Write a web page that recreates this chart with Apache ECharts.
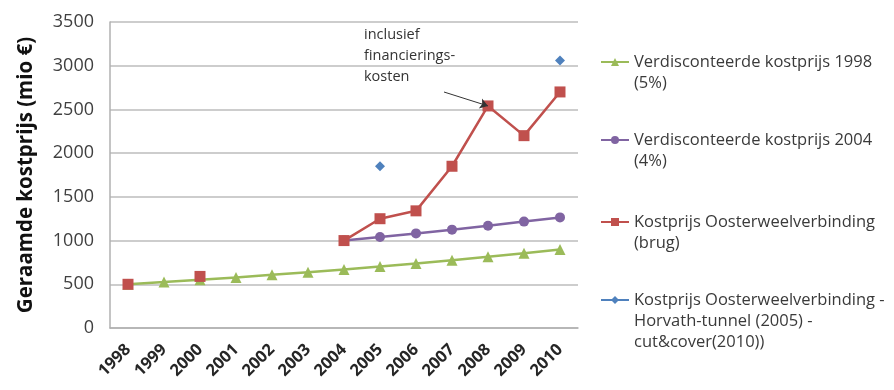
<!DOCTYPE html>
<html>
<head>
<meta charset="utf-8">
<script src="https://cdn.jsdelivr.net/npm/echarts@6/dist/echarts.min.js"></script>
<style>
  html, body { margin: 0; padding: 0; background: #fff; }
  #chart { width: 894px; height: 390px; }
</style>
</head>
<body>
<div id="chart"></div>
<script>
// categories and values
const years = ['1998', '1999', '2000', '2001', '2002', '2003', '2004', '2005', '2006', '2007', '2008', '2009', '2010'];
const kost1998 = [500, 525, 551, 579, 608, 638, 670, 704, 739, 776, 814, 855, 898];
const kost2004 = [null, null, null, null, null, null, 1000, 1040, 1082, 1125, 1170, 1217, 1265];
const brug = [500, null, 590, null, null, null, 1000, 1250, 1340, 1850, 2540, 2200, 2700];
const tunnel = [null, null, null, null, null, null, null, 1850, null, null, null, null, 3060];
const yTicks = [0, 500, 1000, 1500, 2000, 2500, 3000, 3500];

const names = [
  'Verdisconteerde kostprijs 1998\n(5%)',
  'Verdisconteerde kostprijs 2004\n(4%)',
  'Kostprijs Oosterweelverbinding\n(brug)',
  'Kostprijs Oosterweelverbinding -\nHorvath-tunnel (2005) -\ncut&cover(2010))'
];

const font = '"Open Sans", sans-serif';
let chart = echarts.init(document.getElementById('chart'));

// one legend per item; blank lines on top keep the icon on the first text line
const legendTops = [30.5, 108.5, 190.5, 247.5];
const legends = names.map((n, i) => {
  const lines = n.split('\n').length;
  return {
    orient: 'vertical',
    left: 600,
    top: legendTops[i],
    padding: 0,
    itemWidth: 28,
    itemHeight: 10,
    selectedMode: false,
    data: [n],
    formatter: name => '\n'.repeat(lines - 1) + name,
    textStyle: {
      fontFamily: font,
      fontSize: 16.5,
      lineHeight: 21,
      color: '#3a3a3a'
    }
  };
});

let option = {
  animation: false,
  color: ['#9BBB59', '#8064A2', '#C0504D', '#4F81BD'],
  legend: legends,
  grid: { left: 110, right: 316, top: 22, bottom: 62 },
  xAxis: {
    type: 'category',
    data: years,
    boundaryGap: true,
    axisLine: { lineStyle: { color: '#b0b0b0', width: 1.5 } },
    axisTick: { alignWithLabel: true, length: 5, lineStyle: { color: '#b0b0b0', width: 1.5 } },
    axisLabel: {
      interval: 0,
      rotate: 45,
      margin: 19,
      fontFamily: font,
      fontSize: 16.5,
      fontWeight: 'bold',
      color: '#262626'
    }
  },
  yAxis: {
    type: 'value',
    min: yTicks[0],
    max: yTicks[yTicks.length - 1],
    interval: 500,
    name: 'Geraamde kostprijs (mio €)',
    nameLocation: 'middle',
    nameGap: 73,
    nameTextStyle: { fontFamily: font, fontSize: 20.5, fontWeight: 'bold', color: '#111' },
    axisLine: { show: true, lineStyle: { color: '#b0b0b0', width: 1.5 } },
    axisTick: { show: false },
    splitLine: { lineStyle: { color: '#bdbdbd', width: 1.5 } },
    axisLabel: {
      margin: 16,
      fontFamily: font,
      fontSize: 18,
      color: '#404040',
      formatter: v => String(v)
    }
  },
  graphic: [{
    type: 'text',
    left: 364,
    top: 24.5,
    style: {
      text: 'inclusief\nfinancierings-\nkosten',
      font: '14.5px ' + font,
      lineHeight: 21,
      fill: '#333'
    }
  }],
  series: [
    {
      name: names[0], type: 'line', data: kost1998,
      symbol: 'triangle', symbolSize: 11,
      lineStyle: { width: 2.5 }
    },
    {
      name: names[1], type: 'line', data: kost2004,
      symbol: 'circle', symbolSize: 10,
      lineStyle: { width: 2.5 }
    },
    {
      name: names[2], type: 'line', data: brug,
      symbol: 'rect', symbolSize: 11,
      lineStyle: { width: 2.5 },
      markLine: {
        silent: true,
        symbol: ['none', 'arrow'],
        symbolSize: 8,
        label: { show: false },
        lineStyle: { color: '#333', width: 1, type: 'solid' },
        data: [[{ x: 444, y: 92 }, { coord: ['2008', 2540] }]]
      }
    },
    {
      name: names[3], type: 'line', data: tunnel,
      symbol: 'diamond', symbolSize: 10,
      lineStyle: { width: 2.5 }
    }
  ]
};

chart.setOption(option);
window.addEventListener('resize', () => chart.resize(), false);
</script>
</body>
</html>
